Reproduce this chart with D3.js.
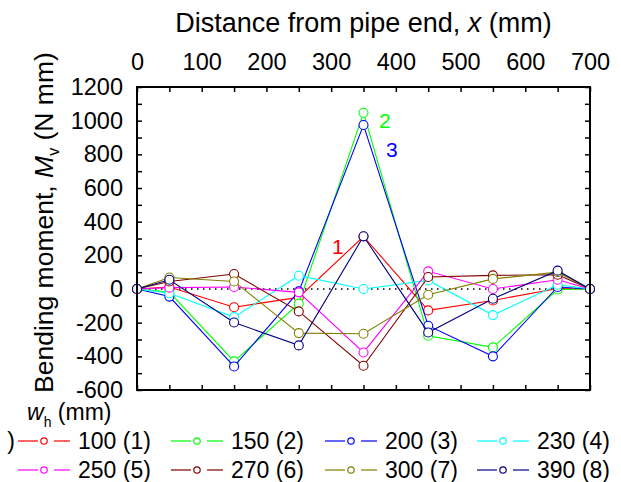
<!DOCTYPE html>
<html>
<head>
<meta charset="utf-8">
<title>Bending moment vs distance</title>
<script src="https://d3js.org/d3.v7.min.js"></script>
<style>
  body { margin: 0; background: #fff; }
  text { font-family: Arial, "Liberation Sans", sans-serif; fill: #000; }
</style>
</head>
<body>
<div id="chart"></div>
<script>
// positions along the pipe (mm)
var xPos = [0, 50, 150, 250, 350, 450, 550, 650, 700];
// bending moment for each w_h (N mm)
var wh100 = [0, 12, -108, -50, 312, -127, -68, 3, 0];
var wh150 = [0, -18, -430, -87, 1047, -278, -347, -3, 0];
var wh200 = [0, -45, -460, -14, 974, -218, -400, 12, 0];
var wh230 = [0, -25, -167, 79, 0, 51, -155, 25, 0];
var wh250 = [0, 8, 12, -20, -377, 105, 0, 55, 0];
var wh270 = [0, 45, 89, -133, -456, 71, 81, 85, 0];
var wh300 = [0, 68, 45, -262, -266, -34, 60, 100, 0];
var wh390 = [0, 55, -199, -335, 313, -258, -58, 109, 0];
var seriesNames = ["100 (1)", "150 (2)", "200 (3)", "230 (4)", "250 (5)", "270 (6)", "300 (7)", "390 (8)"];
var seriesColors = ["#ff0000", "#00ff00", "#0000ff", "#00ffff", "#ff00ff", "#800000", "#808000", "#000080"];
var xTicks = d3.range(0, 701, 50);
var yTicks = d3.range(-600, 1201, 100);

var allSeries = [wh100, wh150, wh200, wh230, wh250, wh270, wh300, wh390];

var width = 621, height = 482;
var pLeft = 137, pRight = 590, pTop = 87, pBottom = 390;

var svg = d3.select("#chart").append("svg")
    .attr("width", width)
    .attr("height", height);

var x = d3.scaleLinear().domain([0, 700]).range([pLeft, pRight]);
var y = d3.scaleLinear().domain([-600, 1200]).range([pBottom, pTop]);

// axes, ticks pointing inward
var topAxis = d3.axisTop(x).tickValues(xTicks)
    .tickFormat(function(d) { return d % 100 === 0 ? d : ""; })
    .tickSize(-5).tickPadding(17);
var botAxis = d3.axisBottom(x).tickValues(xTicks).tickFormat("").tickSize(-5);
var leftAxis = d3.axisLeft(y).tickValues(yTicks)
    .tickFormat(function(d) { return d % 200 === 0 ? d : ""; })
    .tickSize(-5).tickPadding(14);
var rightAxis = d3.axisRight(y).tickValues(yTicks).tickFormat("").tickSize(-5);

function styleAxis(g) {
    g.select(".domain").remove();
    g.selectAll(".tick line").attr("stroke", "#000").attr("stroke-width", 1.5);
    g.selectAll(".tick text").style("font-size", "23.5px")
        .style("font-family", "Arial, 'Liberation Sans', sans-serif").attr("fill", "#000");
}

svg.append("g").attr("transform", "translate(0," + pTop + ")").call(topAxis).call(styleAxis);
svg.append("g").attr("transform", "translate(0," + pBottom + ")").call(botAxis).call(styleAxis);
svg.append("g").attr("transform", "translate(" + pLeft + ",0)").call(leftAxis).call(styleAxis);
svg.append("g").attr("transform", "translate(" + pRight + ",0)").call(rightAxis).call(styleAxis);

// zero reference line
svg.append("line")
    .attr("x1", x(0)).attr("x2", x(700))
    .attr("y1", y(0)).attr("y2", y(0))
    .attr("stroke", "#000").attr("stroke-width", 1.5)
    .attr("stroke-dasharray", "1.5,4.5");

// series
var line = d3.line()
    .x(function(d, i) { return x(xPos[i]); })
    .y(function(d) { return y(d); });

allSeries.forEach(function(vals, k) {
    var g = svg.append("g");
    g.append("path")
        .attr("d", line(vals))
        .attr("fill", "none")
        .attr("stroke", seriesColors[k])
        .attr("stroke-width", 1.1);
    g.selectAll("circle")
        .data(vals)
        .enter()
        .append("circle")
        .attr("cx", function(d, i) { return x(xPos[i]); })
        .attr("cy", function(d) { return y(d); })
        .attr("r", 4.5)
        .attr("fill", "#fff")
        .attr("stroke", seriesColors[k])
        .attr("stroke-width", 1.1);
});

// frame
svg.append("rect")
    .attr("x", pLeft).attr("y", pTop)
    .attr("width", pRight - pLeft).attr("height", pBottom - pTop)
    .attr("fill", "none").attr("stroke", "#000").attr("stroke-width", 2);

// curve labels
svg.append("text").attr("x", 332).attr("y", 254).style("font-size", "21px")
    .style("fill", seriesColors[0]).text("1");
svg.append("text").attr("x", 379).attr("y", 128).style("font-size", "21px")
    .style("fill", seriesColors[1]).text("2");
svg.append("text").attr("x", 386).attr("y", 157).style("font-size", "21px")
    .style("fill", seriesColors[2]).text("3");

// axis titles
svg.append("text")
    .attr("x", (pLeft + pRight) / 2).attr("y", 32)
    .attr("text-anchor", "middle")
    .style("font-size", "27px")
    .html("Distance from pipe end, <tspan font-style='italic'>x</tspan> (mm)");

svg.append("text")
    .attr("transform", "translate(53,393) rotate(-90)")
    .attr("text-anchor", "start")
    .style("font-size", "26.5px")
    .html("Bending moment, <tspan font-style='italic'>M</tspan><tspan font-size='16px' dy='6'>v</tspan><tspan dy='-6'> (N mm)</tspan>");

// legend
svg.append("text")
    .attr("x", 27).attr("y", 420)
    .style("font-size", "23px")
    .html("<tspan font-style='italic'>w</tspan><tspan font-size='14px' dy='7'>h</tspan><tspan dy='-7'> (mm)</tspan>");

svg.append("text").attr("x", 15).attr("y", 449).attr("text-anchor", "end")
    .style("font-size", "23px").text(")");

var colX = [18, 171, 325, 477];
var rowY = [441, 470];
seriesNames.forEach(function(name, k) {
    var cx = colX[k % 4], cy = rowY[Math.floor(k / 4)];
    var g = svg.append("g");
    g.append("line").attr("x1", cx).attr("x2", cx + 20).attr("y1", cy).attr("y2", cy)
        .attr("stroke", seriesColors[k]).attr("stroke-width", 1.2);
    g.append("line").attr("x1", cx + 36).attr("x2", cx + 52).attr("y1", cy).attr("y2", cy)
        .attr("stroke", seriesColors[k]).attr("stroke-width", 1.2);
    g.append("circle").attr("cx", cx + 26).attr("cy", cy).attr("r", 3.2)
        .attr("fill", "#fff").attr("stroke", seriesColors[k]).attr("stroke-width", 1.2);
    g.append("text").attr("x", cx + 60).attr("y", cy + 8)
        .style("font-size", "23px").text(name);
});
</script>
</body>
</html>
